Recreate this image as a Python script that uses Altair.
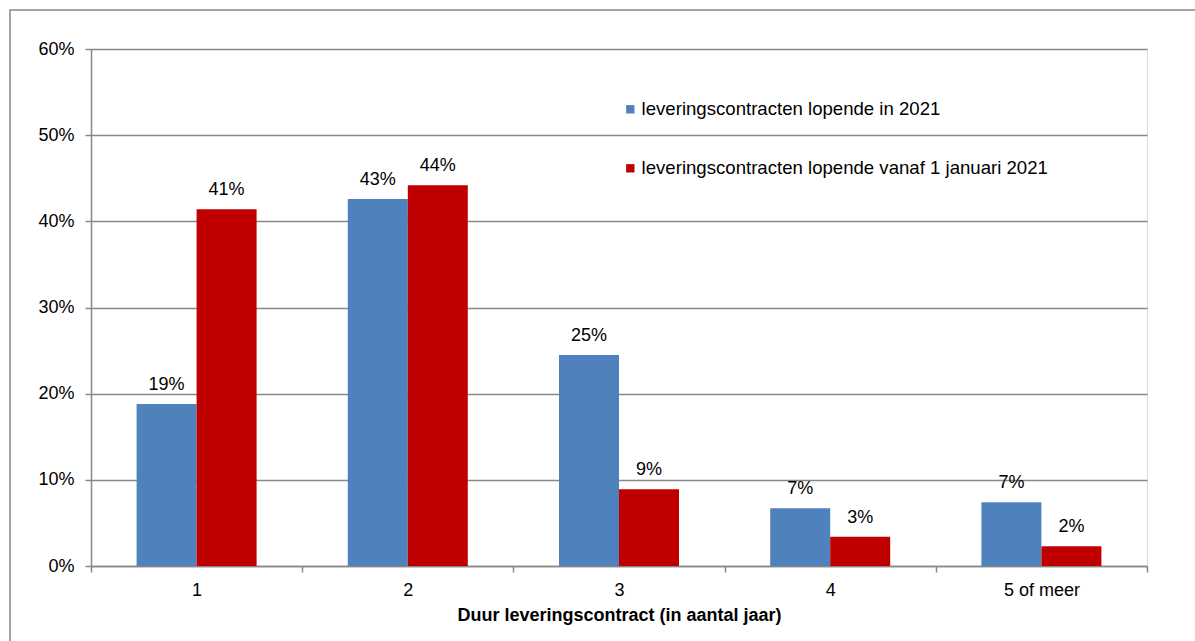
import altair as alt
import pandas as pd

categories = ["1", "2", "3", "4", "5 of meer"]
series_names = ["leveringscontracten lopende in 2021",
                "leveringscontracten lopende vanaf 1 januari 2021"]
blue_values = [0.188, 0.426, 0.245, 0.067, 0.074]
red_values = [0.414, 0.442, 0.089, 0.034, 0.023]
colors = ["#4F81BD", "#C00000"]

rows = []
for c, b, r in zip(categories, blue_values, red_values):
    rows.append({"cat": c, "series": series_names[0], "value": b})
    rows.append({"cat": c, "series": series_names[1], "value": r})
df = pd.DataFrame(rows)

FONT = "Liberation Sans"
FS = 18

x_enc = alt.X("cat:N", sort=categories,
              scale=alt.Scale(paddingInner=0, paddingOuter=0),
              axis=alt.Axis(title="Duur leveringscontract (in aantal jaar)",
                            labelAngle=0, tickBand="extent", grid=False,
                            domainColor="#888888", tickColor="#888888",
                            domainWidth=1.5, tickWidth=1.5, tickSize=6,
                            labelFontSize=FS, labelColor="#000000", labelPadding=9,
                            titleFontSize=FS, titleFontWeight="bold",
                            titleColor="#000000", titlePadding=7))
xo = alt.XOffset("series:N", sort=series_names,
                 scale=alt.Scale(paddingInner=0, paddingOuter=0.76))
y_enc = alt.Y("value:Q",
              scale=alt.Scale(domain=[0, 0.6], nice=False),
              axis=alt.Axis(title=None, format=".0%", values=[0, 0.1, 0.2, 0.3, 0.4, 0.5, 0.6],
                            grid=True, gridColor="#888888", gridWidth=1.5,
                            domainColor="#888888", tickColor="#888888",
                            domainWidth=1.5, tickWidth=1.5, tickSize=6,
                            labelFontSize=FS, labelColor="#000000", labelPadding=11))

bars = alt.Chart(df).mark_bar().encode(
    x=x_enc, xOffset=xo, y=y_enc,
    color=alt.Color("series:N",
                    scale=alt.Scale(domain=series_names, range=colors),
                    legend=alt.Legend(title=None, orient="none", legendX=530, legendY=51,
                                      symbolType="square", symbolSize=70,
                                      symbolStrokeWidth=0,
                                      labelFontSize=18.6, labelColor="#000000",
                                      labelFont=FONT, rowPadding=40, labelOffset=2,
                                      labelLimit=700)))

labels = alt.Chart(df).mark_text(dy=-19, fontSize=FS, font=FONT, color="#000000").encode(
    x=alt.X("cat:N", sort=categories), xOffset=xo, y="value:Q",
    text=alt.Text("value:Q", format=".0%"))

frame = alt.Chart(alt.Data(values=[{"a": 1}])).mark_rect(
    fill=None, stroke="#888888", strokeWidth=1.5).encode(
    x=alt.value(-81), x2=alt.value(1200), y=alt.value(-39), y2=alt.value(700))

chart = alt.layer(frame, bars, labels).properties(
    width=1056, height=517,
    autosize=alt.AutoSizeParams(type="none"),
    padding={"left": 91, "top": 49, "right": 48, "bottom": 75},
    background="#ffffff",
).configure_view(stroke=None).configure(font=FONT)

chart.save("out.html", embed_options={"renderer": "svg", "actions": False})
